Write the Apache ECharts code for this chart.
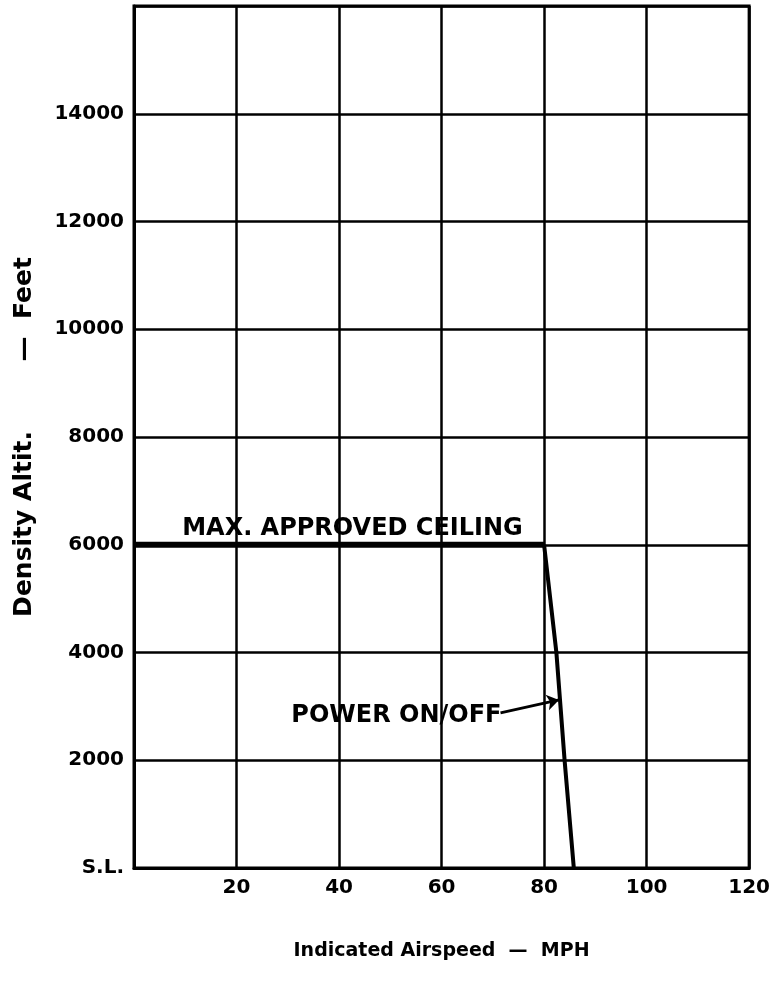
<!DOCTYPE html>
<html>
<head>
<meta charset="utf-8">
<script src="https://cdn.jsdelivr.net/npm/echarts@6/dist/echarts.min.js"></script>
<style>
  html, body { margin: 0; padding: 0; background: #fff; }
  #chart { width: 773px; height: 990px; }
</style>
</head>
<body>
<div id="chart"></div>
<script>
// airspeed (mph) / density altitude (ft)
var xTicks = [0, 20, 40, 60, 80, 100, 120];
var yTicks = [0, 2000, 4000, 6000, 8000, 10000, 12000, 14000, 16000];

// max approved ceiling line
var ceiling = [[0, 6000], [80, 6000]];
// power on/off limit line
var powerOnOff = [[80, 6000], [82.4, 4000], [84, 2000], [85.8, 0]];
// leader arrow from label to the line
var arrowFrom = [71.5, 2880];
var arrowTo = [82.9, 3120];

var notes = [
    {name: 'MAX. APPROVED CEILING', value: [9.4, 6290]},
    {name: 'POWER ON/OFF', value: [30.7, 2820]}
];

var FONT = 'DejaVu Sans';

var chart = echarts.init(document.getElementById('chart'));

var option = {
    animation: false,
    backgroundColor: '#fff',
    grid: {
        left: 134, right: 23, top: 6, bottom: 122,
        show: true, borderColor: '#000', borderWidth: 3
    },
    xAxis: {
        type: 'value',
        min: xTicks[0], max: xTicks[xTicks.length - 1], interval: 20,
        axisLine: {lineStyle: {color: '#000', width: 3}},
        axisTick: {show: false},
        splitLine: {lineStyle: {color: '#000', width: 2.5}},
        axisLabel: {
            margin: 10, color: '#000', fontFamily: FONT, fontWeight: 'bold', fontSize: 20,
            formatter: function (v) { return v === 0 ? '' : v; }
        },
        name: 'Indicated Airspeed  —  MPH',
        nameLocation: 'middle',
        nameGap: 74,
        nameTextStyle: {color: '#000', fontFamily: FONT, fontWeight: 'bold', fontSize: 19}
    },
    yAxis: {
        type: 'value',
        min: yTicks[0], max: yTicks[yTicks.length - 1], interval: 2000,
        axisLine: {lineStyle: {color: '#000', width: 3}},
        axisTick: {show: false},
        splitLine: {lineStyle: {color: '#000', width: 2.5}},
        axisLabel: {
            margin: 10, color: '#000', fontFamily: FONT, fontWeight: 'bold', fontSize: 20,
            formatter: function (v) {
                if (v === 0) return 'S.L.';
                if (v === 16000) return '';
                return v;
            }
        },
        name: 'Density Altit.        —  Feet',
        nameLocation: 'middle',
        nameGap: 97,
        nameTextStyle: {color: '#000', fontFamily: FONT, fontWeight: 'bold', fontSize: 25}
    },
    series: [
        {
            type: 'line',
            data: ceiling,
            symbol: 'none',
            lineStyle: {color: '#000', width: 6}
        },
        {
            type: 'line',
            data: powerOnOff,
            symbol: 'none',
            lineStyle: {color: '#000', width: 4},
            markLine: {
                silent: true,
                symbol: ['none', 'arrow'],
                symbolSize: 12,
                label: {show: false},
                lineStyle: {color: '#000', width: 3, type: 'solid'},
                data: [[{coord: arrowFrom}, {coord: arrowTo}]]
            }
        },
        {
            type: 'scatter',
            data: notes,
            symbolSize: 0,
            itemStyle: {opacity: 1, color: '#000'},
            label: {
                show: true,
                position: 'right',
                distance: 0,
                formatter: '{b}',
                opacity: 1,
                color: '#000', fontFamily: FONT, fontWeight: 'bold', fontSize: 24
            }
        }
    ]
};

chart.setOption(option);
</script>
</body>
</html>
